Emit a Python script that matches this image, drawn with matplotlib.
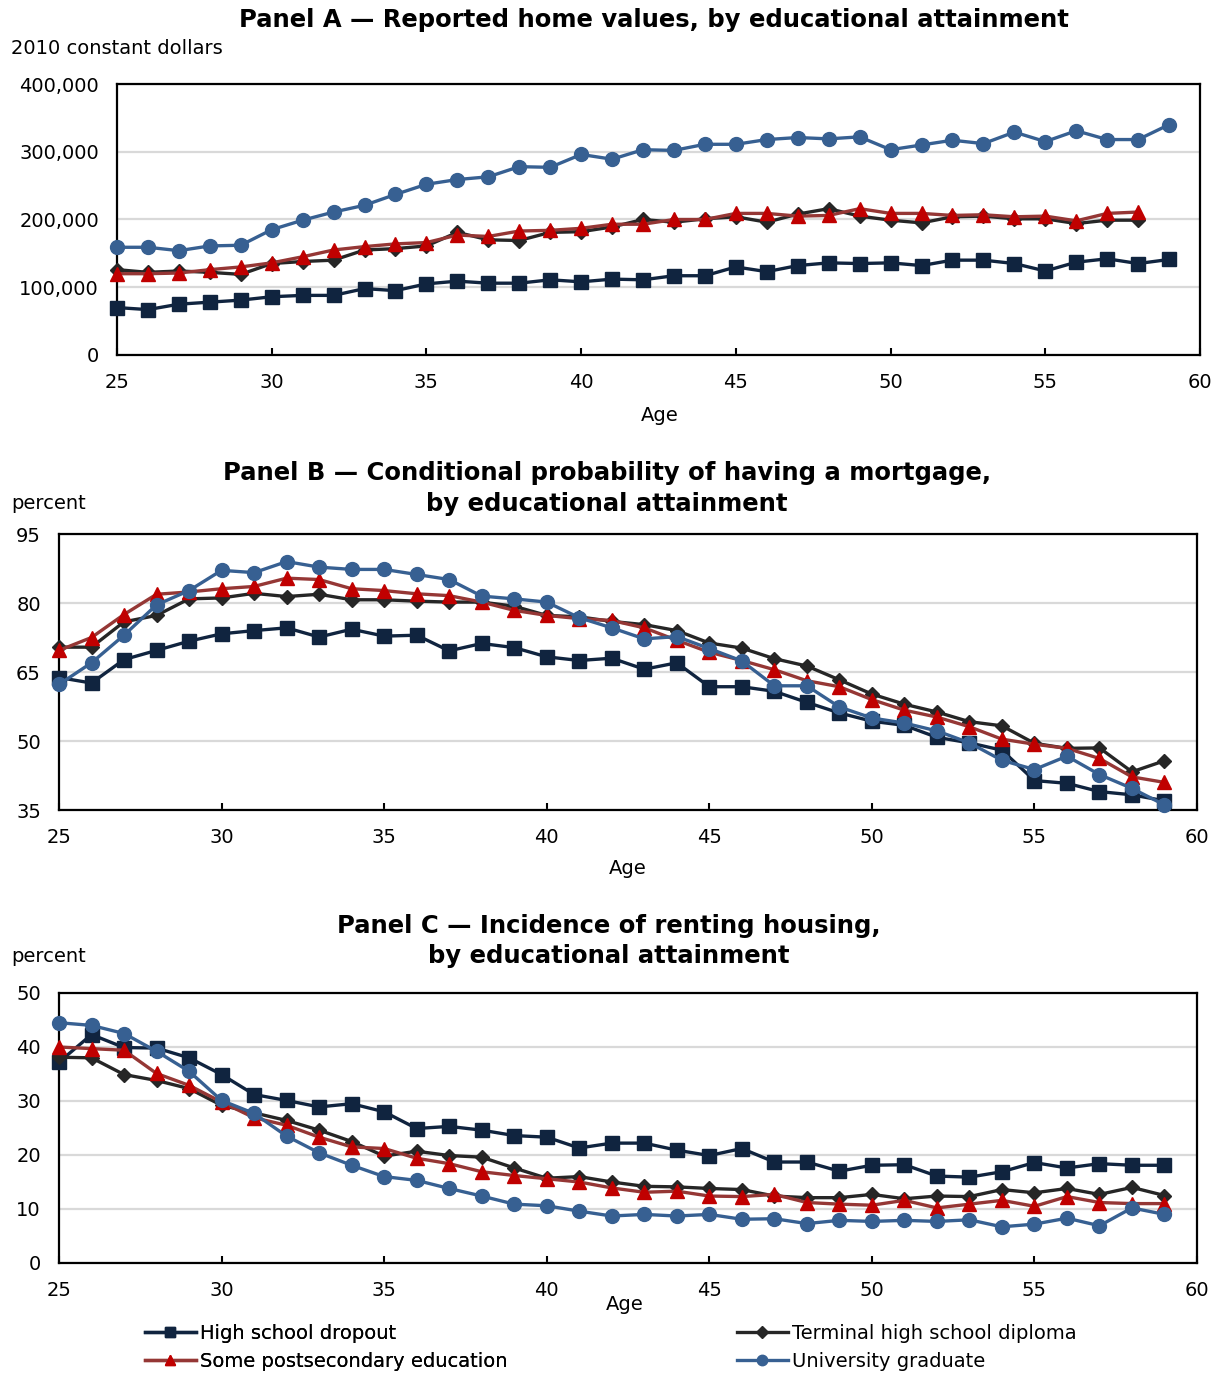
import matplotlib
matplotlib.use("Agg")
import matplotlib.pyplot as plt
from matplotlib.ticker import FuncFormatter, MultipleLocator

plt.rcParams["font.family"] = ["DejaVu Sans"]

ages = list(range(25, 60))

series_names = [
    "High school dropout",
    "Terminal high school diploma",
    "Some postsecondary education",
    "University graduate",
]

# Panel A: reported home values (thousands of 2010 constant dollars)
home_dropout = [70, 67, 75, 78, 81, 86, 88, 88, 98, 95, 105, 109, 106, 106, 111, 108, 112, 111,
                117, 117, 130, 123, 132, 136, 135, 136, 132, 140, 140, 135, 124, 137, 142, 135, 141]
home_diploma = [126, 122, 124, 122, 119, 135, 138, 140, 155, 157, 161, 181, 170, 169, 181, 182, 189, 200,
                196, 201, 204, 196, 208, 216, 205, 199, 195, 204, 205, 201, 201, 194, 199, 199, None]
home_postsec = [120, 120, 121, 126, 130, 136, 145, 155, 160, 164, 166, 177, 175, 183, 184, 187, 193, 193,
                200, 200, 209, 209, 205, 206, 216, 209, 209, 206, 207, 204, 205, 198, 209, 211, None]
home_univ = [159, 159, 154, 161, 162, 185, 199, 211, 221, 237, 252, 259, 263, 278, 277, 296, 289, 303,
             302, 311, 311, 318, 321, 319, 322, 303, 310, 317, 312, 329, 315, 331, 318, 318, 340]

# Panel B: conditional probability of having a mortgage (percent)
mort_dropout = [63.8, 62.6, 67.7, 69.7, 71.7, 73.3, 74.0, 74.6, 72.6, 74.3, 72.8, 73.0, 69.6, 71.2, 70.3,
                68.3, 67.5, 68.0, 65.6, 67.0, 61.8, 61.8, 60.8, 58.4, 56.1, 54.3, 53.4, 50.8, 49.6, 48.0,
                41.4, 40.8, 39.0, 38.3, 37.0]
mort_diploma = [70.4, 70.4, 75.9, 77.3, 80.9, 81.1, 82.1, 81.4, 81.9, 80.7, 80.7, 80.4, 80.2, 80.2, 79.3,
                77.3, 77.0, 76.0, 75.3, 74.0, 71.3, 70.2, 67.9, 66.3, 63.3, 60.2, 58.0, 56.3, 54.2, 53.3,
                49.5, 48.4, 48.5, 43.3, 45.7]
mort_postsec = [69.7, 72.5, 77.5, 81.9, 82.4, 83.1, 83.6, 85.4, 85.1, 83.1, 82.7, 82.0, 81.6, 80.2, 78.4,
                77.3, 76.6, 76.2, 74.6, 71.9, 69.3, 67.5, 65.5, 63.1, 61.8, 59.0, 56.7, 55.2, 53.1, 50.4,
                49.3, 48.4, 46.2, 42.2, 41.0]
mort_univ = [62.3, 67.0, 73.0, 79.6, 82.7, 87.1, 86.6, 89.0, 87.8, 87.3, 87.3, 86.2, 85.1, 81.5, 80.9,
             80.2, 76.8, 74.6, 72.2, 72.7, 70.1, 67.4, 62.0, 62.0, 57.4, 55.0, 53.9, 52.2, 49.6, 45.8,
             43.8, 46.7, 42.7, 39.7, 36.1]

# Panel C: incidence of renting housing (percent)
rent_dropout = [37.2, 42.3, 39.9, 39.8, 38.0, 34.9, 31.2, 30.1, 28.9, 29.5, 28.0, 24.9, 25.3, 24.6, 23.6,
                23.3, 21.3, 22.2, 22.2, 20.9, 19.9, 21.2, 18.7, 18.7, 17.0, 18.1, 18.2, 16.1, 15.9, 16.9,
                18.6, 17.6, 18.4, 18.1, 18.1]
rent_diploma = [38.1, 38.0, 34.9, 33.8, 32.3, 29.2, 27.8, 26.4, 24.6, 22.5, 19.8, 20.7, 19.9, 19.6, 17.6,
                15.7, 16.0, 15.0, 14.2, 14.1, 13.8, 13.6, 12.4, 12.1, 12.1, 12.7, 11.9, 12.4, 12.3, 13.6,
                13.0, 13.8, 12.7, 14.0, 12.5]
rent_postsec = [40.0, 39.7, 39.4, 35.1, 32.9, 29.8, 26.9, 25.5, 23.3, 21.5, 21.2, 19.4, 18.4, 16.9, 16.2,
                15.6, 15.0, 13.9, 13.1, 13.3, 12.4, 12.3, 12.7, 11.2, 10.9, 10.7, 11.6, 10.2, 10.9, 11.6,
                10.5, 12.3, 11.2, 11.0, 11.0]
rent_univ = [44.5, 44.0, 42.5, 39.2, 35.5, 30.1, 27.7, 23.5, 20.4, 18.1, 16.0, 15.3, 13.8, 12.4, 10.9,
             10.6, 9.6, 8.7, 9.0, 8.7, 9.0, 8.1, 8.2, 7.3, 7.9, 7.7, 7.9, 7.7, 8.0, 6.7,
             7.2, 8.3, 6.9, 10.2, 9.0]

# y-axis ticks per panel
home_ticks = [0, 100000, 200000, 300000, 400000]
mort_ticks = [35, 50, 65, 80, 95]
rent_ticks = [0, 10, 20, 30, 40, 50]

# Line style per education group: (line colour, marker, marker colour, marker size)
styles = [
    ("#10243f", "s", "#10243f", 10),
    ("#262626", "D", "#262626", 7.5),
    ("#953735", "^", "#c00000", 10),
    ("#376092", "o", "#376092", 10),
]

FS = 14

fig = plt.figure(figsize=(12.22, 13.74), dpi=100)

def style_axes(ax, yticks, fmt=None):
    ax.set_xlim(25, 60)
    ax.set_ylim(yticks[0], yticks[-1])
    ax.xaxis.set_major_locator(MultipleLocator(5))
    ax.set_yticks(yticks)
    if fmt is not None:
        ax.yaxis.set_major_formatter(fmt)
    ax.grid(axis="y", color="#d9d9d9", linewidth=1.6, zorder=0)
    ax.set_axisbelow(True)
    for sp in ax.spines.values():
        sp.set_linewidth(1.6)
        sp.set_color("black")
    ax.tick_params(axis="x", direction="in", length=5, width=1.5, labelsize=FS, pad=13)
    ax.tick_params(axis="y", length=0, labelsize=FS, pad=13)

def draw_series(ax, data):
    handles = []
    for vals, (lc, mk, mc, ms) in zip(data, styles):
        xs = [a for a, v in zip(ages, vals) if v is not None]
        ys = [v for v in vals if v is not None]
        h, = ax.plot(xs, ys, color=lc, linewidth=2.4, marker=mk, markersize=ms,
                     markerfacecolor=mc, markeredgecolor=mc, clip_on=False, zorder=3)
        handles.append(h)
    return handles

# Panel A
axA = fig.add_axes([117 / 1222, 1 - 355 / 1374, 1083 / 1222, 271 / 1374])
draw_series(axA, [[v * 1000 if v is not None else None for v in s]
                  for s in (home_dropout, home_diploma, home_postsec, home_univ)])
style_axes(axA, home_ticks, FuncFormatter(lambda v, p: f"{int(v):,}"))

# Panel B
axB = fig.add_axes([59 / 1222, 1 - 810 / 1374, 1138 / 1222, 276 / 1374])
draw_series(axB, [mort_dropout, mort_diploma, mort_postsec, mort_univ])
style_axes(axB, mort_ticks)

# Panel C
axC = fig.add_axes([59 / 1222, 1 - 1263 / 1374, 1138 / 1222, 270 / 1374])
handles = draw_series(axC, [rent_dropout, rent_diploma, rent_postsec, rent_univ])
style_axes(axC, rent_ticks)

def fy(py):
    return 1 - py / 1374

def fx(px):
    return px / 1222

title_kw = dict(fontsize=17.5, fontweight="bold", ha="center", va="center")
fig.text(fx(654), fy(20), "Panel A \u2014 Reported home values, by educational attainment", **title_kw)
fig.text(fx(607), fy(473), "Panel B \u2014 Conditional probability of having a mortgage,", **title_kw)
fig.text(fx(607), fy(504), "by educational attainment", **title_kw)
fig.text(fx(609), fy(926), "Panel C \u2014 Incidence of renting housing,", **title_kw)
fig.text(fx(609), fy(956), "by educational attainment", **title_kw)

unit_kw = dict(fontsize=FS, ha="left", va="center")
fig.text(fx(11), fy(49), "2010 constant dollars", **unit_kw)
fig.text(fx(11), fy(503), "percent", **unit_kw)
fig.text(fx(11), fy(957), "percent", **unit_kw)

age_kw = dict(fontsize=FS, ha="center", va="center")
fig.text(fx(660), fy(415), "Age", **age_kw)
fig.text(fx(628), fy(868), "Age", **age_kw)
fig.text(fx(625), fy(1305), "Age", **age_kw)

legend_kw = dict(loc="upper left", frameon=False, fontsize=FS, handlelength=2.6,
                 handletextpad=0.25, labelspacing=0.45, borderpad=0, borderaxespad=0,
                 markerscale=0.75)
leg1 = fig.legend([handles[0], handles[2]], [series_names[0], series_names[2]],
                  bbox_to_anchor=(fx(145), fy(1324)), **legend_kw)
fig.add_artist(leg1)
fig.legend([handles[1], handles[3]], [series_names[1], series_names[3]],
           bbox_to_anchor=(fx(737), fy(1324)), **legend_kw)

fig.savefig("out.png", dpi=100)
